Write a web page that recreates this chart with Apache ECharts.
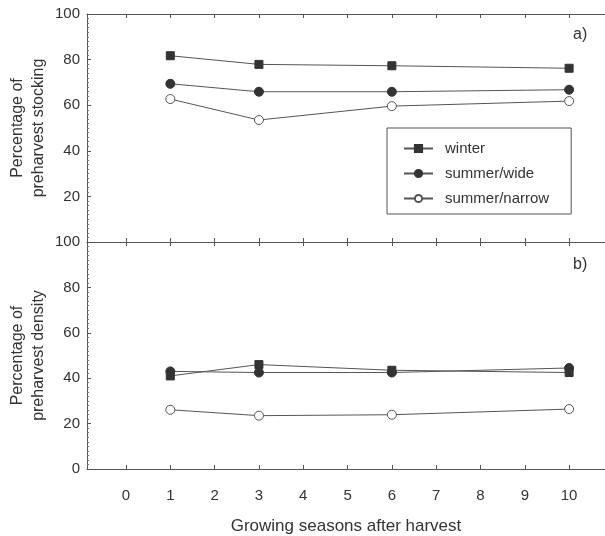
<!DOCTYPE html>
<html>
<head>
<meta charset="utf-8">
<script src="https://cdn.jsdelivr.net/npm/echarts@6/dist/echarts.min.js"></script>
<style>
html,body{margin:0;padding:0;background:#fff;}
#chart{width:605px;height:536px;}
</style>
</head>
<body>
<div id="chart"></div>
<script>
const seasons = [1, 3, 6, 10];
const xTickValues = [0, 1, 2, 3, 4, 5, 6, 7, 8, 9, 10];
const seriesNames = ['winter', 'summer/wide', 'summer/narrow'];

// panel a) Percentage of preharvest stocking
const stockingWinter = [81.7, 77.9, 77.3, 76.2];
const stockingWide = [69.4, 65.9, 65.9, 66.8];
const stockingNarrow = [62.7, 53.5, 59.6, 61.8];

// panel b) Percentage of preharvest density
const densityWinter = [41.0, 46.0, 43.5, 42.5];
const densityWide = [43.0, 42.5, 42.5, 44.5];
const densityNarrow = [26.1, 23.5, 23.9, 26.4];

const FONT = '"Liberation Sans", Arial, sans-serif';
const AX = '#555';
const TXT = '#333';

function pairs(vals) { return seasons.map((s, i) => [s, vals[i]]); }

const styles = [
  { symbol: 'rect', symbolSize: 8, itemStyle: { color: '#333', borderColor: '#333', borderWidth: 1 } },
  { symbol: 'circle', symbolSize: 9, itemStyle: { color: '#333', borderColor: '#333', borderWidth: 1 } },
  { symbol: 'circle', symbolSize: 9, itemStyle: { color: '#fff', borderColor: '#555', borderWidth: 1 } }
];

function mkSeries(name, idx, vals, xi, yi) {
  return Object.assign({
    name: name, type: 'line', xAxisIndex: xi, yAxisIndex: yi,
    data: pairs(vals), showSymbol: true, animation: false,
    lineStyle: { color: '#555', width: 1 },
    emphasis: { disabled: true }, z: 3
  }, styles[idx]);
}

const xMin = -0.88, xMax = 10.81;

function xAx(gridIndex, position, showLabels, name) {
  const a = {
    type: 'value', gridIndex: gridIndex, position: position,
    min: xMin, max: xMax,
    axisLine: { show: true, onZero: false, lineStyle: { color: AX, width: 1 } },
    axisTick: { show: true, inside: true, length: 4, customValues: xTickValues, lineStyle: { color: AX } },
    axisLabel: { show: showLabels, customValues: xTickValues, color: TXT, fontFamily: FONT, fontSize: 15, margin: 19 },
    splitLine: { show: false }
  };
  if (name) {
    a.name = name; a.nameLocation = 'middle'; a.nameGap = 49;
    a.nameTextStyle = { color: TXT, fontFamily: FONT, fontSize: 17 };
  }
  return a;
}

function yAx(gridIndex, name, hideMin) {
  return {
    type: 'value', gridIndex: gridIndex, min: 0, max: 100, interval: 20,
    name: name, nameLocation: 'middle', nameGap: 38, nameRotate: 90, nameMoveOverlap: false,
    nameTextStyle: { color: TXT, fontFamily: FONT, fontSize: 16, lineHeight: 21 },
    axisLine: { show: true, onZero: false, lineStyle: { color: AX, width: 1 } },
    axisTick: { show: true, inside: true, length: 4, lineStyle: { color: AX } },
    minorTick: { show: true, splitNumber: 10, length: 2, lineStyle: { color: '#777' } },
    axisLabel: { color: TXT, fontFamily: FONT, fontSize: 15, margin: 7, showMinLabel: !hideMin },
    splitLine: { show: false }
  };
}

const chart = echarts.init(document.getElementById('chart'), null, { renderer: 'canvas' });
chart.setOption({
  backgroundColor: '#fff',
  animation: false,
  grid: [
    { left: 87, top: 14, right: 0, height: 228, containLabel: false, outerBoundsMode: 'none' },
    { left: 87, top: 242, right: 0, height: 227, containLabel: false, outerBoundsMode: 'none' }
  ],
  xAxis: [
    xAx(0, 'bottom', false),
    xAx(0, 'top', false),
    xAx(1, 'bottom', true, 'Growing seasons after harvest'),
    xAx(1, 'top', false)
  ],
  yAxis: [
    yAx(0, 'Percentage of\npreharvest stocking', true),
    yAx(1, 'Percentage of\npreharvest density', false)
  ],
  legend: {
    show: true, data: seriesNames, orient: 'vertical',
    left: 387, top: 128,
    padding: [13, 22, 8, 16], itemGap: 10,
    itemWidth: 29, itemHeight: 9,
    borderColor: '#555', borderWidth: 1,
    textStyle: { color: TXT, fontFamily: FONT, fontSize: 15, padding: [0, 0, 0, 7] },
    inactiveColor: '#555'
  },
  graphic: [
    { type: 'text', left: 573, top: 27, style: { text: 'a)', fill: TXT, font: '16px ' + FONT } },
    { type: 'text', left: 573, top: 257, style: { text: 'b)', fill: TXT, font: '16px ' + FONT } }
  ],
  series: [
    mkSeries(seriesNames[0], 0, stockingWinter, 0, 0),
    mkSeries(seriesNames[1], 1, stockingWide, 0, 0),
    mkSeries(seriesNames[2], 2, stockingNarrow, 0, 0),
    mkSeries(seriesNames[0], 0, densityWinter, 2, 1),
    mkSeries(seriesNames[1], 1, densityWide, 2, 1),
    mkSeries(seriesNames[2], 2, densityNarrow, 2, 1)
  ]
});
</script>
</body>
</html>
